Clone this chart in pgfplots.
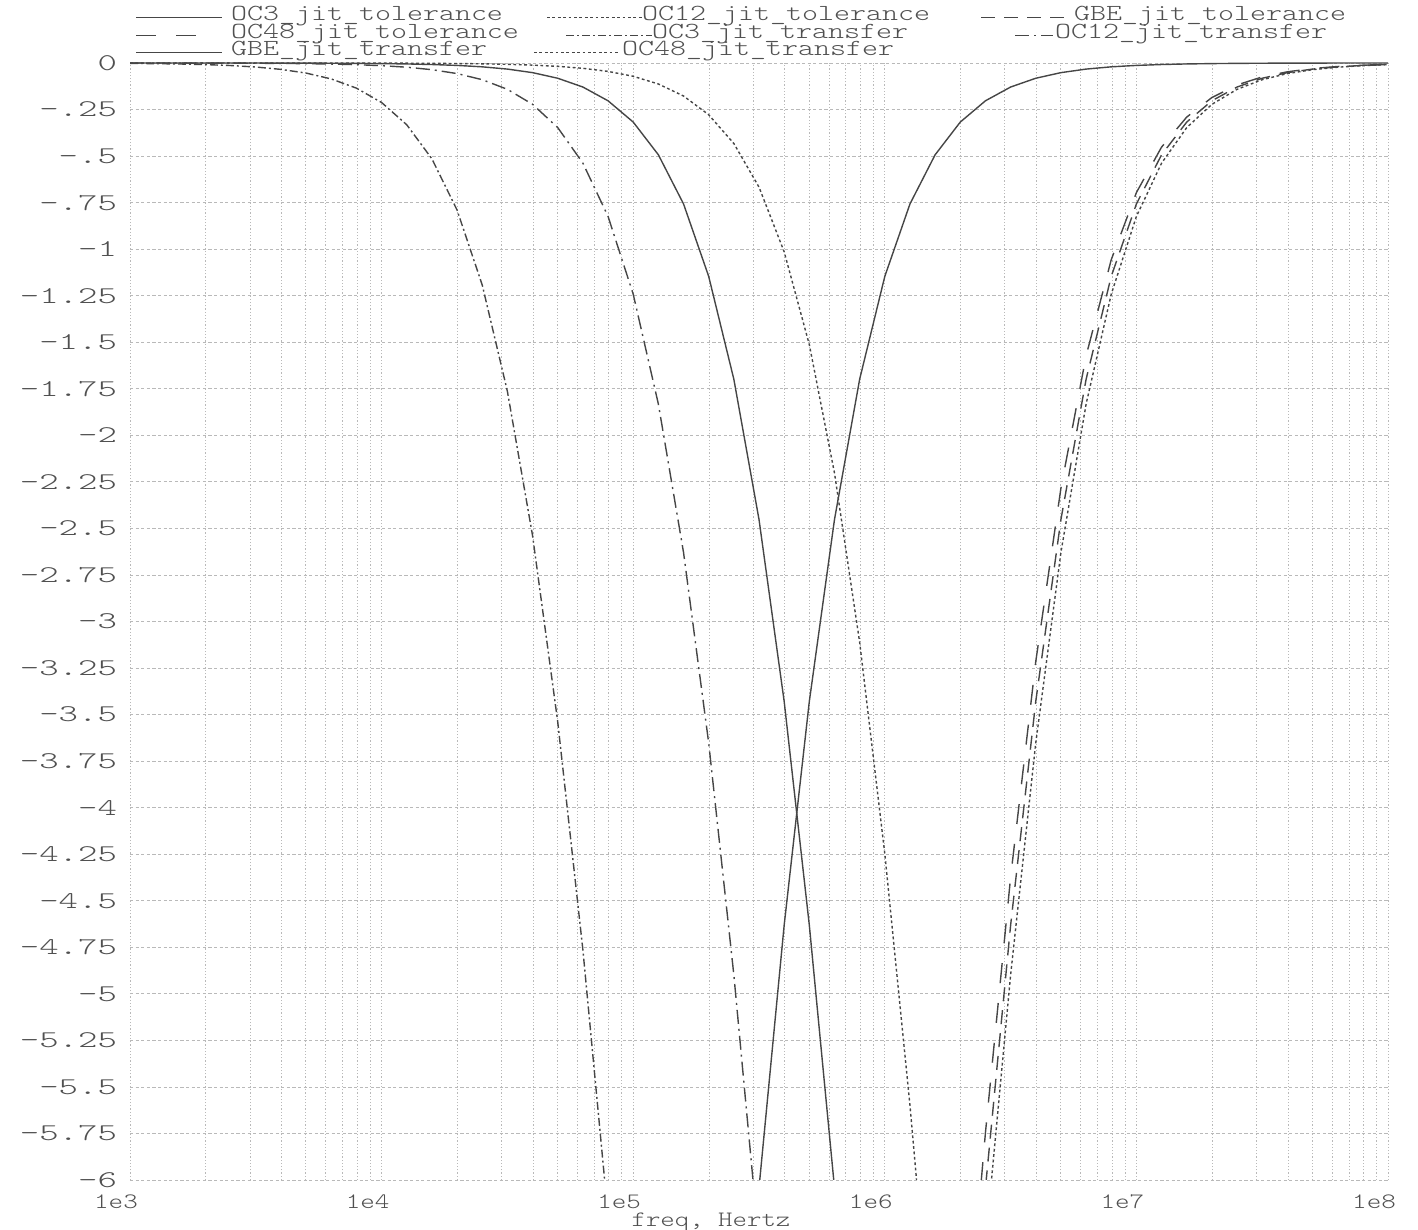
\documentclass[border=0pt]{standalone}
\usepackage{graphicx}
\usepackage{pgfplots}
\pgfplotsset{compat=1.18}
\newcommand\mono{\fontseries{l}\ttfamily}
\newcommand\sx[1]{\scalebox{1.26}[1]{#1}}
\newcommand\sy[1]{\scalebox{1.54}[1]{#1}}
\newcommand\lgt[3]{\makebox[#1][l]{\hspace*{#2}\scalebox{1.325}[1]{#3}}}
\definecolor{txt}{RGB}{80,80,80}
\definecolor{crv}{RGB}{70,70,70}
\definecolor{grd}{RGB}{185,185,185}
\tikzset{legs/.initial=0pt, lege/.initial=43pt, legw/.initial=44pt}
\begin{document}
\begin{tikzpicture}
\begin{axis}[
  name=ax,
  scale only axis,
  width=629pt, height=558.5pt,
  xmode=log, log basis x=10,
  xmin=1e3, xmax=1e8, ymin=-6, ymax=0,
  xtick={1e3,1e4,1e5,1e6,1e7,1e8},
  xticklabels={\sx{1e3},\sx{1e4},\sx{1e5},\sx{1e6},\sx{1e7},\sx{1e8}},
  minor xtick={2e3,3e3,4e3,5e3,6e3,7e3,8e3,9e3,2e4,3e4,4e4,5e4,6e4,7e4,8e4,9e4,2e5,3e5,4e5,5e5,6e5,7e5,8e5,9e5,2e6,3e6,4e6,5e6,6e6,7e6,8e6,9e6,2e7,3e7,4e7,5e7,6e7,7e7,8e7,9e7},
  ytick={-6,-5.75,-5.5,-5.25,-5,-4.75,-4.5,-4.25,-4,-3.75,-3.5,-3.25,-3,-2.75,-2.5,-2.25,-2,-1.75,-1.5,-1.25,-1,-0.75,-0.5,-0.25,0},
  yticklabels={\sy{-6},\sy{-5.75},\sy{-5.5},\sy{-5.25},\sy{-5},\sy{-4.75},\sy{-4.5},\sy{-4.25},\sy{-4},\sy{-3.75},\sy{-3.5},\sy{-3.25},\sy{-3},\sy{-2.75},\sy{-2.5},\sy{-2.25},\sy{-2},\sy{-1.75},\sy{-1.5},\sy{-1.25},\sy{-1},\sy{-.75},\sy{-.5},\sy{-.25},\sy{0}},
  xmajorgrids, xminorgrids, ymajorgrids,
  x grid style={grd, line width=0.4pt, dash pattern=on 0.6pt off 1pt},
  minor x grid style={grd, line width=0.4pt, dash pattern=on 0.6pt off 1pt},
  y grid style={grd, line width=0.4pt, dash pattern=on 1.6pt off 1.2pt},
  axis line style={draw=none},
  major tick length=0pt, minor tick length=0pt,
  xticklabel style={font=\fontsize{11}{11}\mono, text=txt, xshift=-7pt, yshift=-4pt},
  yticklabel style={font=\fontsize{12}{12}\mono, text=txt, xshift=-3pt},
  xlabel={\scalebox{1.25}[1]{freq, Hertz}},
  xlabel style={font=\fontsize{11}{11}\mono, text=txt, xshift=-24pt, yshift=5pt},
  legend columns=3,
  legend cell align=left,
  legend image code/.code={%
    \draw[#1,overlay] (\pgfkeysvalueof{/tikz/legs},-1pt) -- (\pgfkeysvalueof{/tikz/lege},-1pt);
    \path[#1,draw=none] (0pt,0pt) -- (\pgfkeysvalueof{/tikz/legw},0pt);},
  legend style={draw=none, fill=none, inner sep=0pt, outer sep=0pt,
    at={(0,1)}, anchor=south west, xshift=3pt, yshift=1.75pt,
    font=\fontsize{11.5}{11.5}\mono, text=txt,
    nodes={inner sep=0pt, text height=7pt, text depth=1.75pt},
    row sep=0pt, column sep=0pt},
  every axis plot/.append style={crv, line width=0.7pt},
]
% OC3_jit_tolerance
\addplot[solid, legs=0pt, lege=43pt, legw=44pt] coordinates {(2.5119e5,-7.624)(3.1623e5,-6.042)(3.9811e5,-4.632)(5.0119e5,-3.429)(6.3096e5,-2.452)(7.9433e5,-1.699)(1e6,-1.146)(1.2589e6,-0.757)(1.5849e6,-0.4931)(1.9953e6,-0.3174)(2.5119e6,-0.2031)(3.1623e6,-0.1292)(3.9811e6,-0.0820)(5.0119e6,-0.0519)(6.3096e6,-0.0328)(7.9433e6,-0.0207)(1e7,-0.0131)(1.2589e7,-0.0083)(1.5849e7,-0.0052)(1.9953e7,-0.0033)(2.5119e7,-0.0021)(3.1623e7,-0.0013)(3.9811e7,-0.0008)(5.0119e7,-0.0005)(6.3096e7,-0.0003)(7.9433e7,-0.0002)(1e8,-0.0001)};
\addlegendentry{\lgt{155pt}{3.5pt}{OC3\_jit\_tolerance}}
% OC12_jit_tolerance
\addplot[dash pattern=on 1.4pt off 1.3pt, legs=6.5pt, lege=54pt, legw=44pt] coordinates {(1.9953e6,-7.957)(2.5119e6,-6.346)(3.1623e6,-4.899)(3.9811e6,-3.652)(5.0119e6,-2.629)(6.3096e6,-1.832)(7.9433e6,-1.242)(1e7,-0.824)(1.2589e7,-0.538)(1.5849e7,-0.347)(1.9953e7,-0.2221)(2.5119e7,-0.1415)(3.1623e7,-0.0898)(3.9811e7,-0.0569)(5.0119e7,-0.0360)(6.3096e7,-0.0227)(7.9433e7,-0.0144)(1e8,-0.0091)};
\addlegendentry{\lgt{179.5pt}{10pt}{OC12\_jit\_tolerance}}
% GBE_jit_tolerance
\addplot[dash pattern=on 7pt off 4.5pt, legs=0pt, lege=41.5pt, legw=36pt] coordinates {(1.9953e6,-7.624)(2.5119e6,-6.042)(3.1623e6,-4.632)(3.9811e6,-3.429)(5.0119e6,-2.452)(6.3096e6,-1.699)(7.9433e6,-1.146)(1e7,-0.757)(1.2589e7,-0.4931)(1.5849e7,-0.3174)(1.9953e7,-0.2031)(2.5119e7,-0.1292)(3.1623e7,-0.0820)(3.9811e7,-0.0519)(5.0119e7,-0.0328)(6.3096e7,-0.0207)(7.9433e7,-0.0131)(1e8,-0.0083)};
\addlegendentry{\lgt{150pt}{10.5pt}{GBE\_jit\_tolerance}}
% OC48_jit_tolerance
\addplot[dash pattern=on 10pt off 10pt, legs=0pt, lege=36pt, legw=44pt] coordinates {(1.9953e6,-7.296)(2.5119e6,-5.745)(3.1623e6,-4.374)(3.9811e6,-3.215)(5.0119e6,-2.2836)(6.3096e6,-1.5731)(7.9433e6,-1.0565)(1e7,-0.6959)(1.2589e7,-0.4517)(1.5849e7,-0.2905)(1.9953e7,-0.1856)(2.5119e7,-0.1180)(3.1623e7,-0.0748)(3.9811e7,-0.0474)(5.0119e7,-0.0299)(6.3096e7,-0.0189)(7.9433e7,-0.0119)(1e8,-0.0075)};
\addlegendentry{\lgt{155pt}{3.5pt}{OC48\_jit\_tolerance}}
% OC3_jit_transfer
\addplot[dash pattern=on 4pt off 1.5pt on 1pt off 1.5pt, legs=16pt, lege=59pt, legw=44pt] coordinates {(1000,-0.0022)(1258.9,-0.0035)(1584.9,-0.0055)(1995.3,-0.0087)(2511.9,-0.0137)(3162.3,-0.0217)(3981.1,-0.0344)(5011.9,-0.0543)(6309.6,-0.0858)(7943.3,-0.1352)(10000,-0.2124)(12589,-0.332)(15849,-0.515)(19953,-0.790)(25119,-1.193)(31623,-1.764)(39811,-2.539)(50119,-3.539)(63096,-4.764)(79433,-6.193)};
\addlegendentry{\lgt{179.5pt}{15pt}{OC3\_jit\_transfer}}
% OC12_jit_transfer
\addplot[dash pattern=on 7pt off 2.5pt on 1pt off 2.5pt, legs=17pt, lege=36pt, legw=36pt] coordinates {(1000,-0.0001)(1258.9,-0.0002)(1584.9,-0.0004)(1995.3,-0.0006)(2511.9,-0.0009)(3162.3,-0.0014)(3981.1,-0.0023)(5011.9,-0.0036)(6309.6,-0.0057)(7943.3,-0.0091)(10000,-0.0144)(12589,-0.0227)(15849,-0.036)(19953,-0.0569)(25119,-0.0898)(31623,-0.1415)(39811,-0.2221)(50119,-0.347)(63096,-0.538)(79433,-0.824)(1e5,-1.242)(1.2589e5,-1.832)(1.5849e5,-2.629)(1.9953e5,-3.652)(2.5119e5,-4.899)(3.1623e5,-6.346)};
\addlegendentry{\lgt{150pt}{1pt}{OC12\_jit\_transfer}}
% GBE_jit_transfer
\addplot[solid, legs=0pt, lege=43pt, legw=44pt] coordinates {(1000,0)(1258.9,-0.0001)(1584.9,-0.0001)(1995.3,-0.0001)(2511.9,-0.0002)(3162.3,-0.0003)(3981.1,-0.0005)(5011.9,-0.0008)(6309.6,-0.0013)(7943.3,-0.0021)(10000,-0.0033)(12589,-0.0052)(15849,-0.0083)(19953,-0.0131)(25119,-0.0207)(31623,-0.0328)(39811,-0.0519)(50119,-0.082)(63096,-0.1292)(79433,-0.2031)(1e5,-0.3174)(1.2589e5,-0.4931)(1.5849e5,-0.757)(1.9953e5,-1.146)(2.5119e5,-1.699)(3.1623e5,-2.452)(3.9811e5,-3.429)(5.0119e5,-4.632)(6.3096e5,-6.042)};
\addlegendentry{\lgt{155pt}{3.5pt}{GBE\_jit\_transfer}}
% OC48_jit_transfer
\addplot[dash pattern=on 1.4pt off 1.3pt, legs=0pt, lege=43pt, legw=44pt] coordinates {(1000,0)(1258.9,0)(1584.9,0)(1995.3,0)(2511.9,0)(3162.3,-0.0001)(3981.1,-0.0001)(5011.9,-0.0002)(6309.6,-0.0003)(7943.3,-0.0005)(10000,-0.0007)(12589,-0.0011)(15849,-0.0018)(19953,-0.0029)(25119,-0.0045)(31623,-0.0072)(39811,-0.0114)(50119,-0.0181)(63096,-0.0286)(79433,-0.0452)(1e5,-0.0715)(1.2589e5,-0.1128)(1.5849e5,-0.1774)(1.9953e5,-0.2779)(2.5119e5,-0.4325)(3.1623e5,-0.6668)(3.9811e5,-1.0141)(5.0119e5,-1.5133)(6.3096e5,-2.2029)(7.9433e5,-3.1115)(1e6,-4.2481)(1.2589e6,-5.5994)(1.5849e6,-7.134)};
\addlegendentry{\lgt{179.5pt}{0pt}{OC48\_jit\_transfer}}
\end{axis}
\pgfresetboundingbox
\path[use as bounding box] ([xshift=-65pt,yshift=-25pt]ax.south west) rectangle ([xshift=15pt,yshift=31.5pt]ax.north east);
\end{tikzpicture}
\end{document}
